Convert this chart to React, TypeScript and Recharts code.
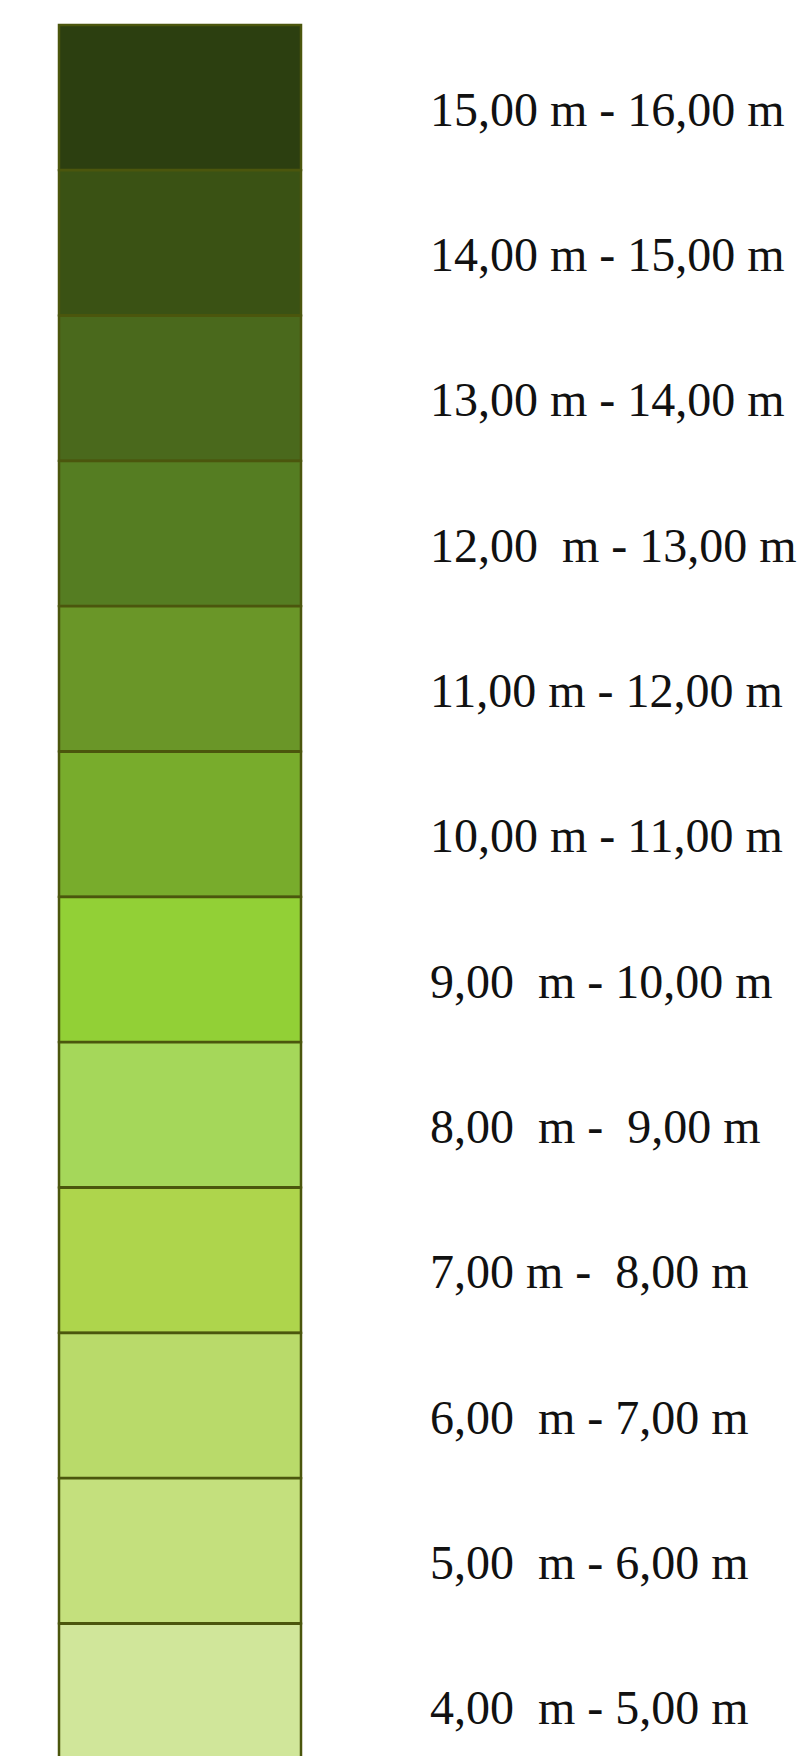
import React from 'react';
import { BarChart, Bar, XAxis, YAxis, Cell } from 'recharts';

// height classes, top row first
const lows = [15, 14, 13, 12, 11, 10, 9, 8, 7, 6, 5, 4];
const highs = [16, 15, 14, 13, 12, 11, 10, 9, 8, 7, 6, 5];
const labels = [
    '15,00 m - 16,00 m',
    '14,00 m - 15,00 m',
    '13,00 m - 14,00 m',
    '12,00  m - 13,00 m',
    '11,00 m - 12,00 m',
    '10,00 m - 11,00 m',
    '9,00  m - 10,00 m',
    '8,00  m -  9,00 m',
    '7,00 m -  8,00 m',
    '6,00  m - 7,00 m',
    '5,00  m - 6,00 m',
    '4,00  m - 5,00 m',
];
const colors = [
    '#2c3f10', '#3a5214', '#4a691c', '#557d22', '#6a9628', '#78ac2c',
    '#92d036', '#a5d75a', '#aed54c', '#b9da6a', '#c4e07d', '#d0e69a',
];

const data = labels.map((label, i) => ({
    label,
    span: highs[i] - lows[i],
}));

const LegendTick = (props: any) => {
    const { x, y, payload } = props;
    return (
        <text
            x={x}
            y={y}
            dy={28}
            textAnchor="start"
            fill="#111"
            fontSize={48}
            fontFamily="'Liberation Serif', 'DejaVu Serif', serif"
            style={{ whiteSpace: 'pre' }}
        >
            {payload.value}
        </text>
    );
};

const App: React.FC = () => {
    return (
        <div style={{ position: 'absolute', left: 0, top: 0, width: 806, height: 1756, overflow: 'hidden', background: '#fff' }}>
            <BarChart
                width={806}
                height={1770}
                data={data}
                layout="vertical"
                barCategoryGap={0}
                barGap={0}
                margin={{ top: 25, right: 0, left: 59, bottom: 1 }}
            >
                <XAxis type="number" domain={[0, 1]} hide />
                <YAxis
                    type="category"
                    dataKey="label"
                    orientation="right"
                    width={505}
                    axisLine={false}
                    tickLine={false}
                    tickSize={0}
                    tickMargin={129}
                    interval={0}
                    tick={<LegendTick />}
                />
                <Bar dataKey="span" isAnimationActive={false} stroke="#4b560d" strokeWidth={2.5}>
                    {data.map((d, i) => (
                        <Cell key={d.label} fill={colors[i]} />
                    ))}
                </Bar>
            </BarChart>
        </div>
    );
};

export default App;
